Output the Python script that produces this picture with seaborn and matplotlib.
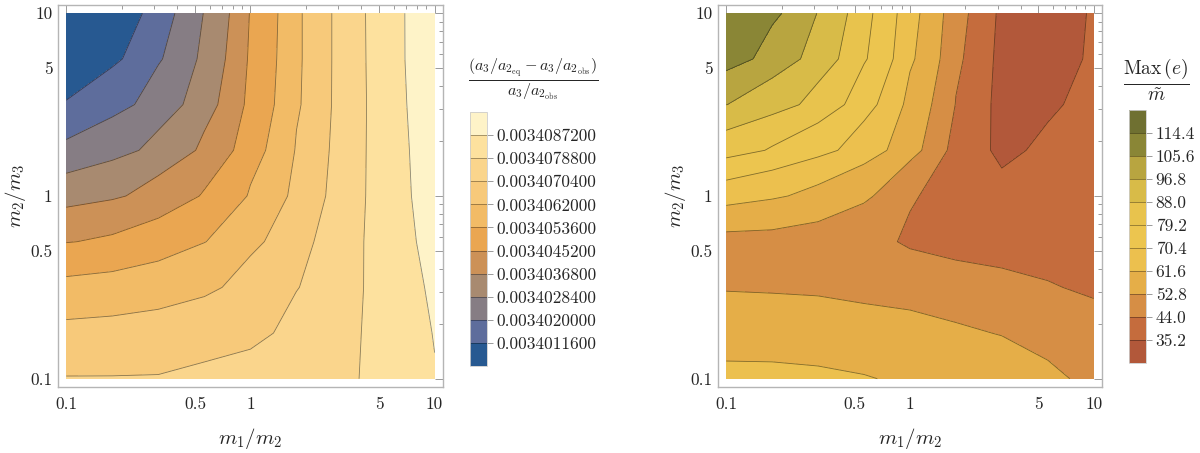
import numpy as np
import matplotlib
matplotlib.use("Agg")
import matplotlib.pyplot as plt
import seaborn as sns
from matplotlib.colors import ListedColormap
from matplotlib.ticker import FixedLocator, FixedFormatter, NullFormatter

# grid of mass ratios (log spaced), same for both panels
m1_m2 = [0.1, 0.1778, 0.3162, 0.5623, 1.0, 1.778, 3.162, 5.623, 10.0]
m2_m3 = [0.1, 0.1778, 0.3162, 0.5623, 1.0, 1.778, 3.162, 5.623, 10.0]

# left panel, (a3/a2eq - a3/a2obs)/(a3/a2obs) minus 0.0034, in units of 1e-7
# rows go with m2/m3 (0.1 -> 10), columns with m1/m2 (0.1 -> 10)
dev_left = [
    [70.7, 70.7, 70.8, 72.1, 72.9, 75.0, 77.5, 81.9, 86.8],
    [64.0, 64.5, 65.1, 66.5, 68.6, 72.8, 77.1, 82.1, 87.6],
    [55.6, 56.4, 58.2, 60.5, 65.2, 70.1, 76.4, 82.6, 88.9],
    [44.9, 46.5, 49.1, 53.4, 60.1, 67.9, 75.9, 83.3, 90.6],
    [33.3, 35.7, 40.3, 46.0, 54.4, 64.4, 75.0, 83.8, 91.8],
    [21.8, 25.7, 31.0, 38.6, 50.3, 62.6, 74.6, 84.1, 92.2],
    [12.2, 17.2, 24.0, 33.5, 47.6, 61.0, 74.3, 84.3, 93.1],
    [4.0, 10.0, 19.2, 30.7, 46.5, 60.7, 74.3, 84.6, 93.5],
    [3.2, 4.9, 16.3, 28.8, 45.7, 60.7, 74.3, 84.8, 93.1],
]
left_levels = [0.00340116, 0.00340200, 0.00340284, 0.00340368, 0.00340452,
               0.00340536, 0.00340620, 0.00340704, 0.00340788, 0.00340872]
left_colors = ["#275991", "#5e6d9c", "#867d84", "#a88a70", "#cc9157", "#eaa651",
               "#f2bb66", "#f7c97a", "#fad58c", "#fde19e", "#fef3c8"]

# right panel, Max(e)/m~
max_e = [
    [63.4, 63.4, 62.9, 62.0, 60.3, 58.5, 57.6, 54.6, 50.2],
    [57.8, 57.5, 57.1, 56.4, 55.4, 53.9, 52.4, 49.3, 46.6],
    [52.2, 51.9, 51.5, 50.2, 49.4, 47.9, 46.2, 44.4, 42.9],
    [50.2, 50.2, 49.3, 46.6, 42.7, 40.5, 40.0, 40.9, 42.2],
    [65.5, 62.7, 58.8, 54.3, 44.9, 39.2, 37.8, 39.2, 41.8],
    [82.8, 78.3, 73.0, 65.8, 56.0, 40.3, 33.0, 37.8, 40.9],
    [96.9, 91.6, 84.7, 73.8, 58.9, 43.7, 31.7, 33.0, 40.9],
    [109.6, 101.8, 92.7, 80.1, 63.0, 45.7, 32.1, 29.9, 37.4],
    [113.5, 107.4, 96.4, 81.8, 64.6, 47.1, 33.0, 29.9, 36.5],
]
right_levels = [35.2, 44.0, 52.8, 61.6, 70.4, 79.2, 88.0, 96.8, 105.6, 114.4]
right_colors = ["#b2583a", "#c56c3d", "#d68e45", "#e5ae48", "#ecc04e", "#ecc54f",
                "#e8c34d", "#d8bb48", "#b8a540", "#8a8636", "#6f7031"]

tick_vals = [0.1, 0.5, 1, 5, 10]
tick_text = ["0.1", "0.5", "1", "5", "10"]

sns.set_style("white")
plt.rcParams["font.family"] = ["cmr10", "DejaVu Serif"]
plt.rcParams["mathtext.fontset"] = "cm"
plt.rcParams["axes.unicode_minus"] = False

fig = plt.figure(figsize=(12, 4.53), dpi=100)

X, Y = np.meshgrid(m1_m2, m2_m3)
pad = 10 ** 0.045
minor = [v * d for d in (0.1, 1) for v in range(2, 10)]


def panel(rect, crect, Z, levels, colors, labels, title, tpos, tsize):
    ax = fig.add_axes(rect)
    step = levels[1] - levels[0]
    lo = min(Z.min(), levels[0] - step)
    hi = max(Z.max(), levels[-1] + step)
    full = np.concatenate([[lo], levels, [hi]])
    cmap = ListedColormap(sns.color_palette(colors))
    cf = ax.contourf(X, Y, Z, levels=full, cmap=cmap)
    ax.contour(X, Y, Z, levels=levels, colors="k", linewidths=0.6, alpha=0.45)
    ax.set_xscale("log")
    ax.set_yscale("log")
    ax.set_xlim(0.1 / pad, 10 * pad)
    ax.set_ylim(0.1 / pad, 10 * pad)
    for axis in (ax.xaxis, ax.yaxis):
        axis.set_major_locator(FixedLocator(tick_vals))
        axis.set_major_formatter(FixedFormatter(tick_text))
        axis.set_minor_locator(FixedLocator(minor))
        axis.set_minor_formatter(NullFormatter())
    ax.tick_params(which="both", direction="in", top=True, right=True,
                   color="#9a9a9a", width=0.7, labelsize=12.5)
    ax.tick_params(which="major", length=6)
    ax.tick_params(which="minor", length=3)
    ax.tick_params(axis="x", pad=7)
    ax.tick_params(axis="y", pad=4)
    for s in ax.spines.values():
        s.set_color("#b5b5b5")
        s.set_linewidth(1.0)
    ax.set_xlabel(r"$m_1/m_2$", fontsize=15, labelpad=10)
    ax.set_ylabel(r"$m_2/m_3$", fontsize=15, labelpad=2)

    cax = fig.add_axes(crect)
    cb = fig.colorbar(cf, cax=cax, spacing="uniform", ticks=levels)
    cb.ax.set_yticklabels(labels)
    cb.outline.set_edgecolor("#cccccc")
    cb.outline.set_linewidth(0.6)
    for lev in levels:
        cax.axhline(lev, color="k", lw=0.6, alpha=0.4)
    cax.tick_params(direction="out", length=4, width=0.7, color="#9a9a9a",
                    labelsize=12.5, pad=3)
    fig.text(tpos[0], tpos[1], title, fontsize=tsize, ha="center", va="center")


panel([0.0483, 0.1457, 0.3208, 0.8433], [0.3917, 0.192, 0.0142, 0.5607],
      0.0034 + 1e-7 * np.array(dev_left), left_levels, left_colors,
      [f"{v:.10f}" for v in left_levels],
      r"$\frac{(a_3/a_{2_{\mathrm{eq}}}-a_3/a_{2_{\mathrm{obs}}})}{a_3/a_{2_{\mathrm{obs}}}}$",
      (0.444, 0.826), 16.5)

panel([0.5983, 0.1457, 0.32, 0.8433], [0.9408, 0.1987, 0.0142, 0.5585],
      np.array(max_e), right_levels, right_colors,
      [f"{v:.1f}" for v in right_levels],
      r"$\frac{\mathrm{Max}\,(e)}{\tilde{m}}$",
      (0.9633, 0.822), 20)

fig.savefig("out.png", dpi=100)
